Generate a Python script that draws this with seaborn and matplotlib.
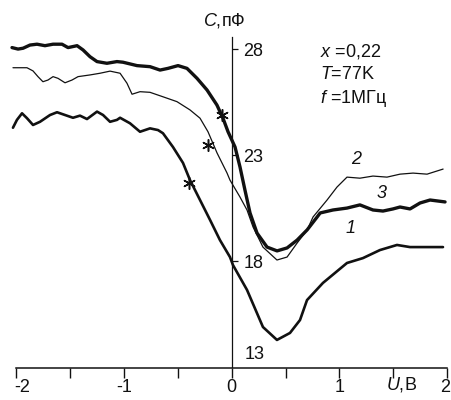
import matplotlib
matplotlib.use("Agg")
import matplotlib.pyplot as plt
import matplotlib.transforms as mtransforms
import seaborn as sns
import pandas as pd

# ---------------- data ----------------
U1 = [-2.030, -1.993, -1.946, -1.900, -1.844, -1.779, -1.686, -1.621, -1.547, -1.473,
      -1.408, -1.343, -1.250, -1.194, -1.129, -1.065, -1.036, -0.944, -0.851, -0.758,
      -0.684, -0.638, -0.545, -0.452, -0.387, -0.294, -0.201, -0.109, -0.016, 0.012,
      0.142, 0.290, 0.420, 0.541, 0.634, 0.699, 0.847, 1.070, 1.218, 1.376, 1.534,
      1.655, 1.961]
C1 = [24.31, 24.68, 24.99, 24.76, 24.44, 24.59, 24.91, 25.04, 24.91, 24.78,
      24.88, 24.72, 25.07, 24.91, 24.59, 24.68, 24.78, 24.52, 24.12, 24.28,
      24.20, 24.05, 23.40, 22.65, 21.84, 20.90, 19.96, 19.01, 18.21, 17.83,
      16.66, 14.91, 14.30, 14.63, 15.24, 16.18, 16.99, 17.93, 18.16, 18.54, 18.78,
      18.68, 18.68]

U2 = [-2.030, -1.900, -1.844, -1.798, -1.752, -1.705, -1.658, -1.612, -1.547, -1.482,
      -1.426, -1.315, -1.222, -1.129, -1.036, -0.972, -0.925, -0.851, -0.758, -0.638,
      -0.508, -0.387, -0.294, -0.220, -0.136, -0.044, -0.016, 0.077, 0.142, 0.198,
      0.290, 0.420, 0.514, 0.607, 0.700, 0.755, 0.885, 0.977, 1.070, 1.190, 1.311,
      1.441, 1.562, 1.683, 1.813, 1.962]
C2 = [27.14, 27.14, 26.99, 26.72, 26.48, 26.56, 26.72, 26.64, 26.43, 26.56,
      26.72, 26.80, 26.88, 26.98, 26.88, 26.41, 25.89, 26.01, 25.98, 25.77,
      25.54, 25.15, 24.76, 24.12, 23.12, 22.18, 21.84, 21.04, 20.43, 19.63,
      18.68, 18.07, 18.21, 18.87, 19.49, 20.10, 20.90, 21.51, 21.98, 21.93, 22.03,
      21.98, 22.12, 22.17, 22.12, 22.36]

U3 = [-2.039, -1.983, -1.936, -1.872, -1.807, -1.733, -1.658, -1.575, -1.519, -1.435,
      -1.380, -1.315, -1.250, -1.158, -1.065, -1.009, -0.879, -0.758, -0.665, -0.591,
      -0.498, -0.415, -0.322, -0.229, -0.137, -0.081, -0.034, 0.031, 0.077, 0.123,
      0.170, 0.235, 0.328, 0.421, 0.514, 0.607, 0.700, 0.793, 0.821, 0.940, 1.070,
      1.190, 1.311, 1.404, 1.497, 1.562, 1.655, 1.748, 1.841, 1.980]
C3 = [28.09, 28.02, 28.06, 28.21, 28.25, 28.18, 28.25, 28.25, 28.09, 28.18,
      27.98, 27.66, 27.43, 27.35, 27.43, 27.40, 27.24, 27.19, 27.03, 27.11,
      27.24, 27.11, 26.64, 26.09, 25.38, 24.76, 24.12, 23.40, 22.46, 21.37,
      20.29, 19.34, 18.68, 18.50, 18.64, 19.01, 19.49, 20.10, 20.29, 20.43, 20.52,
      20.67, 20.43, 20.38, 20.48, 20.57, 20.48, 20.76, 20.90, 20.81]

# asterisk markers on the curves
STAR_U = [-0.40, -0.22, -0.09]
STAR_C = [21.70, 23.49, 24.91]

X_TICKS = [-2, -1.5, -1, -0.5, 0, 0.5, 1, 1.5, 2]
X_TICKLABELS = ["-2", "", "-1", "", "0", "", "1", "", "2"]
Y_TICKS = [18, 23, 28]
Y_TICKLABELS = ["18", "23", "28"]

# ---------------- style ----------------
sns.set_theme(style="white")
plt.rcParams["font.family"] = ["Liberation Sans", "DejaVu Sans"]
plt.rcParams["mathtext.fontset"] = "custom"
plt.rcParams["mathtext.rm"] = "Liberation Sans"
plt.rcParams["mathtext.it"] = "Liberation Sans:italic"
plt.rcParams["lines.solid_joinstyle"] = "round"
plt.rcParams["lines.solid_capstyle"] = "round"
FS = 13
INK = "#111111"

W, H = 452, 400
X0, SX = 231.7, 107.75   # pixel of U=0, px per volt
Y13, SY = 367.5, 21.2    # pixel of C=13, px per pF
XLIM = (-2.07, 2.03)
YLIM = (12.3, 29.6)

def px_x(u):
    return X0 + u * SX

def px_y(c):
    return Y13 - (c - 13) * SY

def to_u(px):
    return (px - X0) / SX

def to_c(py):
    return 13 + (Y13 - py) / SY

fig = plt.figure(figsize=(W / 100, H / 100), dpi=100)
left = px_x(XLIM[0]) / W
right = px_x(XLIM[1]) / W
bottom = (H - px_y(YLIM[0])) / H
top = (H - px_y(YLIM[1])) / H
ax = fig.add_axes([left, bottom, right - left, top - bottom])
ax.set_facecolor("white")

df1 = pd.DataFrame({"U": U1, "C": C1})
df2 = pd.DataFrame({"U": U2, "C": C2})
df3 = pd.DataFrame({"U": U3, "C": C3})
sns.lineplot(data=df1, x="U", y="C", sort=False, estimator=None, color=INK, lw=1.9, ax=ax)
sns.lineplot(data=df2, x="U", y="C", sort=False, estimator=None, color=INK, lw=0.9, ax=ax)
sns.lineplot(data=df3, x="U", y="C", sort=False, estimator=None, color=INK, lw=2.4, ax=ax)
sns.scatterplot(x=STAR_U, y=STAR_C, marker=(6, 2, 0), s=70, color=INK,
                linewidth=1.1, edgecolor=INK, ax=ax, zorder=5)

ax.set_xlim(*XLIM)
ax.set_ylim(*YLIM)

# axes through the origin
for s in ["left", "top"]:
    ax.spines[s].set_visible(False)
ax.spines["bottom"].set_position(("data", 13))
ax.spines["bottom"].set_bounds(-2, 2)
ax.spines["bottom"].set_linewidth(1.1)
ax.spines["bottom"].set_color(INK)
ax.spines["right"].set_position(("data", 0))
ax.spines["right"].set_bounds(13, 28.6)
ax.spines["right"].set_linewidth(0.9)
ax.spines["right"].set_color(INK)

ax.set_xticks(X_TICKS)
ax.set_xticklabels(X_TICKLABELS)
ax.tick_params(axis="x", direction="out", length=7.5, width=1.0, color=INK,
               labelsize=FS, labelcolor=INK, pad=0.5, bottom=True)
ax.yaxis.tick_right()
ax.set_yticks(Y_TICKS)
ax.set_yticklabels(Y_TICKLABELS)
ax.tick_params(axis="y", direction="out", length=4.5, width=0.9, color=INK,
               labelsize=FS, labelcolor=INK, pad=4, right=True, left=False)
ax.set_xlabel("")
ax.set_ylabel("")
ax.grid(False)

# keep the end labels inside the picture
xlabs = ax.get_xticklabels()
xlabs[0].set_transform(xlabs[0].get_transform() +
                       mtransforms.ScaledTranslation(6 / 100, 0, fig.dpi_scale_trans))
xlabs[-1].set_transform(xlabs[-1].get_transform() +
                        mtransforms.ScaledTranslation(-2.5 / 100, 0, fig.dpi_scale_trans))

# axis titles and annotations
ax.text(to_u(224), to_c(21), "$C$,пФ", fontsize=FS, ha="center", va="center", color=INK)
ax.text(to_u(402), to_c(385), "$U$,В", fontsize=FS, ha="center", va="center", color=INK)
ax.text(to_u(245), to_c(355), "13", fontsize=FS, ha="left", va="center", color=INK)

ax.text(to_u(320), to_c(52), "$x$ =0,22", fontsize=FS, ha="left", va="center", color=INK)
ax.text(to_u(320), to_c(75), "$T$=77K", fontsize=FS, ha="left", va="center", color=INK)
ax.text(to_u(320), to_c(99), "$f$ =1МГц", fontsize=FS, ha="left", va="center", color=INK)

ax.text(to_u(356), to_c(160), "2", fontsize=FS, style="italic", ha="center", va="center", color=INK)
ax.text(to_u(382), to_c(194), "3", fontsize=FS, style="italic", ha="center", va="center", color=INK)
ax.text(to_u(351), to_c(229), "1", fontsize=FS, style="italic", ha="center", va="center", color=INK)

fig.savefig("out.png", dpi=100, facecolor="white")
